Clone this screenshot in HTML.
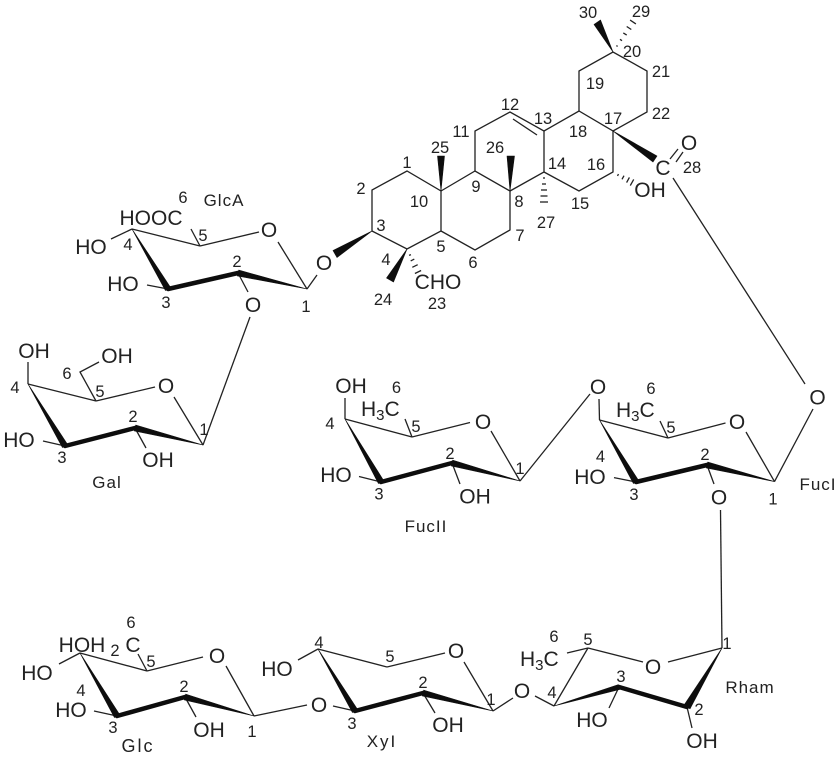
<!DOCTYPE html>
<html>
<head>
<meta charset="utf-8">
<style>
html,body{margin:0;padding:0;background:#fff;width:839px;height:757px;overflow:hidden}
svg{display:block}
text{font-family:"Liberation Sans",sans-serif;fill:#222;text-anchor:middle}
.a{font-size:21px}
.n{font-size:16.5px}
.l{font-size:17px;letter-spacing:1px}
.s{text-anchor:start}
.t line,.t polyline{stroke:#222;stroke-width:1.3;fill:none}
.h line{stroke:#222;stroke-width:1.3}
.b line{stroke:#111;stroke-width:4.5;stroke-linecap:round}
.w polygon{fill:#111;stroke:#111;stroke-width:.6;stroke-linejoin:round}
</style>
</head>
<body>
<svg width="839" height="757" viewBox="0 0 839 757" xmlns="http://www.w3.org/2000/svg">
<defs><filter id="f" x="0" y="0" width="100%" height="100%"><feGaussianBlur stdDeviation="0.3"/></filter></defs>
<g filter="url(#f)">

<!-- Aglycone -->
<g class="t">
<polyline points="372,231 372,190 407,171 441,191 441,231 407,249 372,231"/>
<polyline points="441,191 475,171 510,191 510,230 475,250 441,231"/>
<polyline points="475,171 475,131 510,112 544,131 544,172 510,191"/>
<polyline points="544,172 579,191 613,172 613,131 579,111 544,131"/>
<polyline points="579,111 579,71 613,52 647,71 647,112 613,131"/>
<line x1="513" y1="119" x2="537" y2="135"/>
<line x1="670" y1="159" x2="678" y2="149"/>
<line x1="676" y1="162" x2="683" y2="152"/>
<line x1="673" y1="178" x2="805" y2="384"/>
</g>
<g class="w">
<polygon points="441,191 437.5,156 444.5,156"/>
<polygon points="510,191 507,156 514.5,156"/>
<polygon points="407,249 386.5,278 393.5,282"/>
<polygon points="613,131 657,156 653,162"/>
<polygon points="613,52 594,24.5 600.5,20"/>
<polygon points="372,231 333,250.5 337,257.5"/>
</g>
<g class="h">
<line x1="543" y1="178" x2="545" y2="178"/>
<line x1="542" y1="184" x2="546" y2="184"/>
<line x1="541" y1="190" x2="547" y2="190"/>
<line x1="540.5" y1="196" x2="547.5" y2="196"/>
<line x1="540" y1="202" x2="548" y2="202"/>
<line x1="616.4" y1="45.6" x2="617.6" y2="46.4"/>
<line x1="620" y1="39.3" x2="622" y2="40.7"/>
<line x1="623.3" y1="32.9" x2="626.7" y2="35.1"/>
<line x1="626.7" y1="26.5" x2="631.3" y2="29.5"/>
<line x1="630.1" y1="20.1" x2="635.9" y2="23.9"/>
<line x1="409.1" y1="255.4" x2="410.9" y2="254.6"/>
<line x1="410.7" y1="260.9" x2="414.3" y2="259.1"/>
<line x1="412.3" y1="267.3" x2="417.7" y2="264.7"/>
<line x1="414.9" y1="273.5" x2="421.1" y2="270.5"/>
<line x1="617.5" y1="175.9" x2="618.5" y2="174.1"/>
<line x1="622" y1="179.3" x2="624" y2="175.7"/>
<line x1="626.6" y1="182.6" x2="629.4" y2="177.4"/>
<line x1="630.3" y1="185.6" x2="633.7" y2="179.4"/>
</g>
<text class="n" x="407" y="168">1</text>
<text class="n" x="361" y="194">2</text>
<text class="n" x="381" y="231">3</text>
<text class="n" x="386" y="265">4</text>
<text class="n" x="441" y="252">5</text>
<text class="n" x="473" y="268">6</text>
<text class="n" x="520" y="241">7</text>
<text class="n" x="519" y="207">8</text>
<text class="n" x="476" y="192">9</text>
<text class="n" x="419" y="207">10</text>
<text class="n" x="461" y="137">11</text>
<text class="n" x="510" y="110">12</text>
<text class="n" x="543" y="124">13</text>
<text class="n" x="557" y="169">14</text>
<text class="n" x="580" y="209">15</text>
<text class="n" x="596" y="170">16</text>
<text class="n" x="613" y="124">17</text>
<text class="n" x="578" y="137">18</text>
<text class="n" x="595" y="89">19</text>
<text class="n" x="632" y="57">20</text>
<text class="n" x="661" y="77">21</text>
<text class="n" x="661" y="119">22</text>
<text class="n" x="437" y="309">23</text>
<text class="n" x="383" y="305">24</text>
<text class="n" x="440" y="153">25</text>
<text class="n" x="495" y="153">26</text>
<text class="n" x="546" y="228">27</text>
<text class="n" x="692" y="173">28</text>
<text class="n" x="641" y="17">29</text>
<text class="n" x="588" y="18">30</text>
<text class="a" x="438" y="289">CHO</text>
<text class="a" x="663" y="175">C</text>
<text class="a" x="689" y="150">O</text>
<text class="a" x="650" y="197">OH</text>

<!-- GlcA -->
<g class="t">
<line x1="132" y1="229" x2="200" y2="246"/>
<line x1="200" y1="246" x2="259" y2="232"/>
<line x1="278" y1="242" x2="307" y2="289"/>
<line x1="111" y1="239" x2="132" y2="229"/>
<line x1="200" y1="246" x2="191" y2="229"/>
<line x1="307" y1="289" x2="317" y2="275"/>
<line x1="147" y1="285" x2="168" y2="289"/>
<line x1="238" y1="273" x2="248" y2="292"/>
<line x1="250" y1="317" x2="203" y2="445"/>
</g>
<g class="b"><line x1="168" y1="289" x2="238" y2="273"/></g>
<g class="w">
<polygon points="132,229 170.6,287.5 165.4,290.5"/>
<polygon points="238.7,270.1 307,289 237.3,275.9"/>
</g>
<text class="n" x="183" y="203">6</text>
<text class="l" x="224" y="206">GlcA</text>
<text class="a" x="151" y="225">HOOC</text>
<text class="a" x="91" y="254">HO</text>
<text class="n" x="128" y="250">4</text>
<text class="n" x="203" y="241">5</text>
<text class="n" x="237" y="267">2</text>
<text class="a" x="269" y="237">O</text>
<text class="a" x="324" y="270">O</text>
<text class="a" x="123" y="291">HO</text>
<text class="n" x="166" y="308">3</text>
<text class="a" x="253" y="312">O</text>
<text class="n" x="306" y="312">1</text>

<!-- Gal -->
<g class="t">
<line x1="28" y1="384" x2="96" y2="401"/>
<line x1="96" y1="401" x2="155" y2="387"/>
<line x1="174" y1="397" x2="203" y2="445"/>
<line x1="28" y1="384" x2="28" y2="362"/>
<polyline points="96,401 80,372 99,362"/>
<line x1="43" y1="441" x2="65" y2="446"/>
<line x1="135" y1="428" x2="146" y2="448"/>
</g>
<g class="b"><line x1="65" y1="446" x2="135" y2="428"/></g>
<g class="w">
<polygon points="28,384 67.6,444.5 62.4,447.5"/>
<polygon points="135.7,425.1 203,445 134.3,430.9"/>
</g>
<text class="a" x="34" y="358">OH</text>
<text class="a" x="117" y="363">OH</text>
<text class="n" x="67" y="379">6</text>
<text class="n" x="15" y="393">4</text>
<text class="n" x="100" y="397">5</text>
<text class="a" x="166" y="393">O</text>
<text class="n" x="133" y="422">2</text>
<text class="n" x="204" y="435">1</text>
<text class="a" x="19" y="447">HO</text>
<text class="n" x="62" y="463">3</text>
<text class="a" x="158" y="467">OH</text>
<text class="l" x="107" y="488">Gal</text>

<!-- FucII -->
<g class="t">
<line x1="345" y1="419" x2="412" y2="437"/>
<line x1="412" y1="437" x2="470" y2="422.5"/>
<line x1="491" y1="431" x2="520" y2="481"/>
<line x1="520" y1="481" x2="590" y2="394"/>
<line x1="345" y1="419" x2="345" y2="398"/>
<line x1="412" y1="437" x2="405" y2="419"/>
<line x1="359" y1="476.5" x2="381" y2="482"/>
<line x1="452" y1="463" x2="460" y2="484"/>
</g>
<g class="b"><line x1="381" y1="482" x2="452" y2="463"/></g>
<g class="w">
<polygon points="345,419 383.6,480.5 378.4,483.5"/>
<polygon points="452.7,460.1 520,481 451.3,465.9"/>
</g>
<text class="a" x="351" y="393">OH</text>
<text class="a s" x="361" y="416">H<tspan font-size="15" dy="4">3</tspan><tspan dy="-4">C</tspan></text>
<text class="n" x="396.5" y="393">6</text>
<text class="n" x="330" y="429">4</text>
<text class="n" x="416" y="432">5</text>
<text class="a" x="483" y="429">O</text>
<text class="n" x="450" y="459">2</text>
<text class="n" x="520" y="474">1</text>
<text class="a" x="336" y="482">HO</text>
<text class="n" x="379" y="499.5">3</text>
<text class="a" x="475" y="503.5">OH</text>
<text class="l" x="426" y="532">FucII</text>

<!-- FucI -->
<g class="t">
<line x1="599.5" y1="420" x2="668" y2="438"/>
<line x1="668" y1="438" x2="725.5" y2="423"/>
<line x1="746" y1="432" x2="774.5" y2="481.6"/>
<line x1="599.5" y1="420" x2="599" y2="399"/>
<line x1="668" y1="438" x2="660" y2="421"/>
<line x1="614" y1="477.6" x2="636" y2="482"/>
<line x1="707" y1="465" x2="714" y2="484"/>
<line x1="774.5" y1="481.6" x2="813" y2="409"/>
<line x1="720.5" y1="510" x2="722" y2="648"/>
</g>
<g class="b"><line x1="636" y1="482" x2="707" y2="465"/></g>
<g class="w">
<polygon points="599.5,420 638.6,480.5 633.4,483.5"/>
<polygon points="707.7,462.1 774.5,481.6 706.3,467.9"/>
</g>
<text class="a" x="598" y="394">O</text>
<text class="a s" x="616" y="417">H<tspan font-size="15" dy="4">3</tspan><tspan dy="-4">C</tspan></text>
<text class="n" x="651" y="394">6</text>
<text class="n" x="671" y="433">5</text>
<text class="a" x="737" y="429">O</text>
<text class="n" x="600.5" y="462">4</text>
<text class="a" x="590" y="484">HO</text>
<text class="n" x="634" y="500">3</text>
<text class="n" x="705" y="460">2</text>
<text class="a" x="719" y="504.5">O</text>
<text class="n" x="773" y="504.5">1</text>
<text class="l" x="818" y="490">FucI</text>
<text class="a" x="817.5" y="404.5">O</text>

<!-- Glc -->
<g class="t">
<line x1="80" y1="653" x2="147" y2="671"/>
<line x1="147" y1="671" x2="203" y2="657"/>
<line x1="226" y1="666" x2="254" y2="716"/>
<line x1="254" y1="716" x2="307" y2="705"/>
<line x1="333" y1="706" x2="355" y2="711"/>
<line x1="147" y1="671" x2="138" y2="654"/>
<line x1="59" y1="664" x2="80" y2="653"/>
<line x1="94" y1="711" x2="117" y2="716"/>
<line x1="185" y1="697" x2="196" y2="717"/>
</g>
<g class="b"><line x1="117" y1="716" x2="185" y2="697"/></g>
<g class="w">
<polygon points="80,653 119.6,714.5 114.4,717.5"/>
<polygon points="185.7,694.1 254,716 184.3,699.9"/>
</g>
<text class="a" x="82" y="652">HOH</text>
<text class="n" x="115" y="656">2</text>
<text class="a" x="133" y="652">C</text>
<text class="n" x="131" y="628">6</text>
<text class="n" x="151" y="667">5</text>
<text class="a" x="217" y="663">O</text>
<text class="a" x="37" y="680">HO</text>
<text class="n" x="81" y="696">4</text>
<text class="a" x="71" y="717">HO</text>
<text class="n" x="113" y="733">3</text>
<text class="n" x="184" y="692">2</text>
<text class="a" x="209" y="737">OH</text>
<text class="n" x="252" y="737">1</text>
<text class="l" x="138" y="752" style="font-size:18px;letter-spacing:2px">Glc</text>
<text class="a" x="319" y="712">O</text>

<!-- Xyl -->
<g class="t">
<line x1="318" y1="649" x2="387" y2="667"/>
<line x1="387" y1="667" x2="445" y2="653"/>
<line x1="464" y1="662" x2="493" y2="711"/>
<line x1="493" y1="711" x2="513" y2="698"/>
<line x1="535" y1="696" x2="554" y2="706"/>
<line x1="298" y1="660" x2="318" y2="649"/>
<line x1="423" y1="693" x2="435" y2="713"/>
</g>
<g class="b"><line x1="355" y1="711" x2="423" y2="693"/></g>
<g class="w">
<polygon points="318,649 357.6,709.5 352.4,712.5"/>
<polygon points="423.7,690.1 493,711 422.3,695.9"/>
</g>
<text class="n" x="319" y="648">4</text>
<text class="a" x="277" y="676">HO</text>
<text class="n" x="390" y="662">5</text>
<text class="a" x="456" y="658">O</text>
<text class="n" x="352" y="729">3</text>
<text class="l" x="382" y="747" style="letter-spacing:2px">XyI</text>
<text class="n" x="423" y="688">2</text>
<text class="n" x="491" y="705">1</text>
<text class="a" x="448" y="732">OH</text>
<text class="a" x="522" y="698">O</text>

<!-- Rham -->
<g class="t">
<line x1="554" y1="706" x2="588" y2="648"/>
<line x1="588" y1="648" x2="643" y2="662"/>
<line x1="668" y1="662" x2="722" y2="648"/>
<line x1="588" y1="648" x2="567" y2="653"/>
<line x1="619" y1="687" x2="609" y2="708"/>
<line x1="687" y1="707" x2="692" y2="728"/>
</g>
<g class="b"><line x1="619" y1="687" x2="687" y2="707"/></g>
<g class="w">
<polygon points="554,706 619.7,689.4 618.3,684.6"/>
<polygon points="690,708.8 722,648 684,705.2"/>
</g>
<text class="a s" x="520" y="666">H<tspan font-size="15" dy="4">3</tspan><tspan dy="-4">C</tspan></text>
<text class="n" x="554" y="642">6</text>
<text class="n" x="588" y="645">5</text>
<text class="n" x="552" y="698">4</text>
<text class="n" x="621" y="682">3</text>
<text class="n" x="699" y="715">2</text>
<text class="n" x="727" y="649">1</text>
<text class="a" x="653" y="674">O</text>
<text class="a" x="592" y="727">HO</text>
<text class="a" x="702" y="748">OH</text>
<text class="l" x="750" y="693">Rham</text>

</g>
</svg>
</body>
</html>
